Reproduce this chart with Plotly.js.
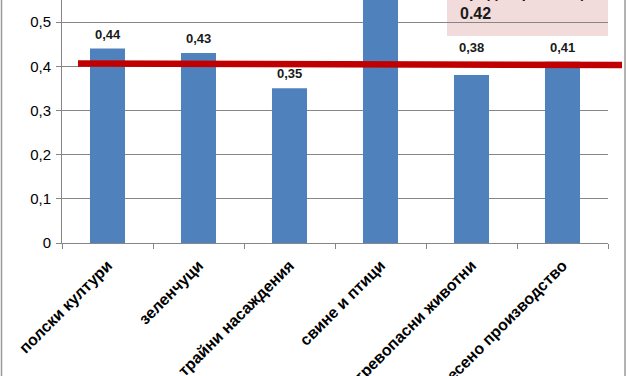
<!DOCTYPE html>
<html>
<head>
<meta charset="utf-8">
<script src="https://cdn.plot.ly/plotly-3.0.1.min.js"></script>
<style>
html,body{margin:0;padding:0;background:#fff;}
#chart{width:627px;height:376px;}
</style>
</head>
<body>
<div id="chart"></div>
<script>
const categories = ["полски култури", "зеленчуци", "трайни насаждения", "свине и птици", "тревопасни животни", "смесено производство"];
const values = [0.44, 0.43, 0.35, 0.62, 0.38, 0.41];
const averageValue = 0.42;
const averageLabel = "средно равнище";
const yTickVals = [0, 0.1, 0.2, 0.3, 0.4, 0.5];
const yTickText = ["0", "0,1", "0,2", "0,3", "0,4", "0,5"];

const W = 627, H = 376, L = 62, R = 19, T = 0, B = 133;
const pw = W - L - R;
const px = x => (x - L) / pw;
const py = y => (H - B - y) / (H - T - B);

const fmt = v => v.toFixed(2).replace('.', ',');
// labels of the last two bars were lifted above the average line in the original
const raisedLabel = {4: 0.443, 5: 0.443};

const annotations = values.map((v, i) => ({
  x: categories[i],
  y: raisedLabel[i] !== undefined ? raisedLabel[i] : v,
  yanchor: raisedLabel[i] !== undefined ? 'middle' : 'bottom',
  yshift: raisedLabel[i] !== undefined ? 0 : 5,
  text: fmt(v),
  showarrow: false,
  font: {family: 'Liberation Sans, Arial, sans-serif', size: 13, color: '#1a1a1a', weight: 'bold'}
}));
annotations.push({
  xref: 'paper', yref: 'paper',
  x: px(458), y: py(24), xanchor: 'left', yanchor: 'bottom',
  align: 'left',
  text: '<b>' + averageLabel + '<br>' + String(averageValue) + '</b>',
  showarrow: false,
  font: {family: 'Liberation Sans, Arial, sans-serif', size: 16, color: '#1a1a1a'}
});

const data = [{
  type: 'bar',
  x: categories,
  y: values,
  marker: {color: '#4F81BD', line: {width: 0}},
  hoverinfo: 'none'
}];

const layout = {
  width: W, height: H,
  margin: {l: L, r: R, t: T, b: B, pad: 0},
  paper_bgcolor: '#ffffff',
  plot_bgcolor: '#ffffff',
  showlegend: false,
  bargap: 0.615,
  font: {family: 'Liberation Sans, Arial, sans-serif', color: '#000'},
  xaxis: {
    type: 'category',
    showline: true, linecolor: '#868686', linewidth: 1,
    ticks: 'outside', ticklen: 5, tickcolor: '#868686',
    tickson: 'boundaries',
    tickangle: -45,
    ticklabelstandoff: 6,
    tickfont: {family: 'Liberation Sans, Arial, sans-serif', size: 16, color: '#000', weight: 'bold'},
    showgrid: false,
    automargin: false,
    fixedrange: true
  },
  yaxis: {
    range: [0, 0.55],
    tickvals: yTickVals,
    ticktext: yTickText,
    showline: true, linecolor: '#868686', linewidth: 1,
    ticks: 'outside', ticklen: 5, tickcolor: '#868686',
    showgrid: true, gridcolor: '#868686', gridwidth: 1,
    zeroline: false,
    ticklabelstandoff: 2,
    tickfont: {family: 'Liberation Sans, Arial, sans-serif', size: 15, color: '#000'},
    automargin: false,
    fixedrange: true
  },
  shapes: [
    {type: 'rect', xref: 'paper', yref: 'paper', x0: px(447), x1: px(608), y0: py(36), y1: py(-5),
     fillcolor: '#F2DCDB', line: {width: 0}, layer: 'below'},
    {type: 'line', xref: 'paper', yref: 'y', x0: px(78), x1: px(622), y0: 0.4063, y1: 0.4027,
     line: {color: '#C00000', width: 6.5}, layer: 'above'},
    {type: 'line', xref: 'paper', yref: 'paper', x0: px(1.5), x1: px(1.5), y0: py(376), y1: py(0),
     line: {color: '#9a9a9a', width: 1.5}},
    {type: 'line', xref: 'paper', yref: 'paper', x0: px(625), x1: px(625), y0: py(376), y1: py(0),
     line: {color: '#9a9a9a', width: 1.5}}
  ],
  annotations: annotations
};

Plotly.newPlot('chart', data, layout, {displayModeBar: false, staticPlot: true});
</script>
</body>
</html>
